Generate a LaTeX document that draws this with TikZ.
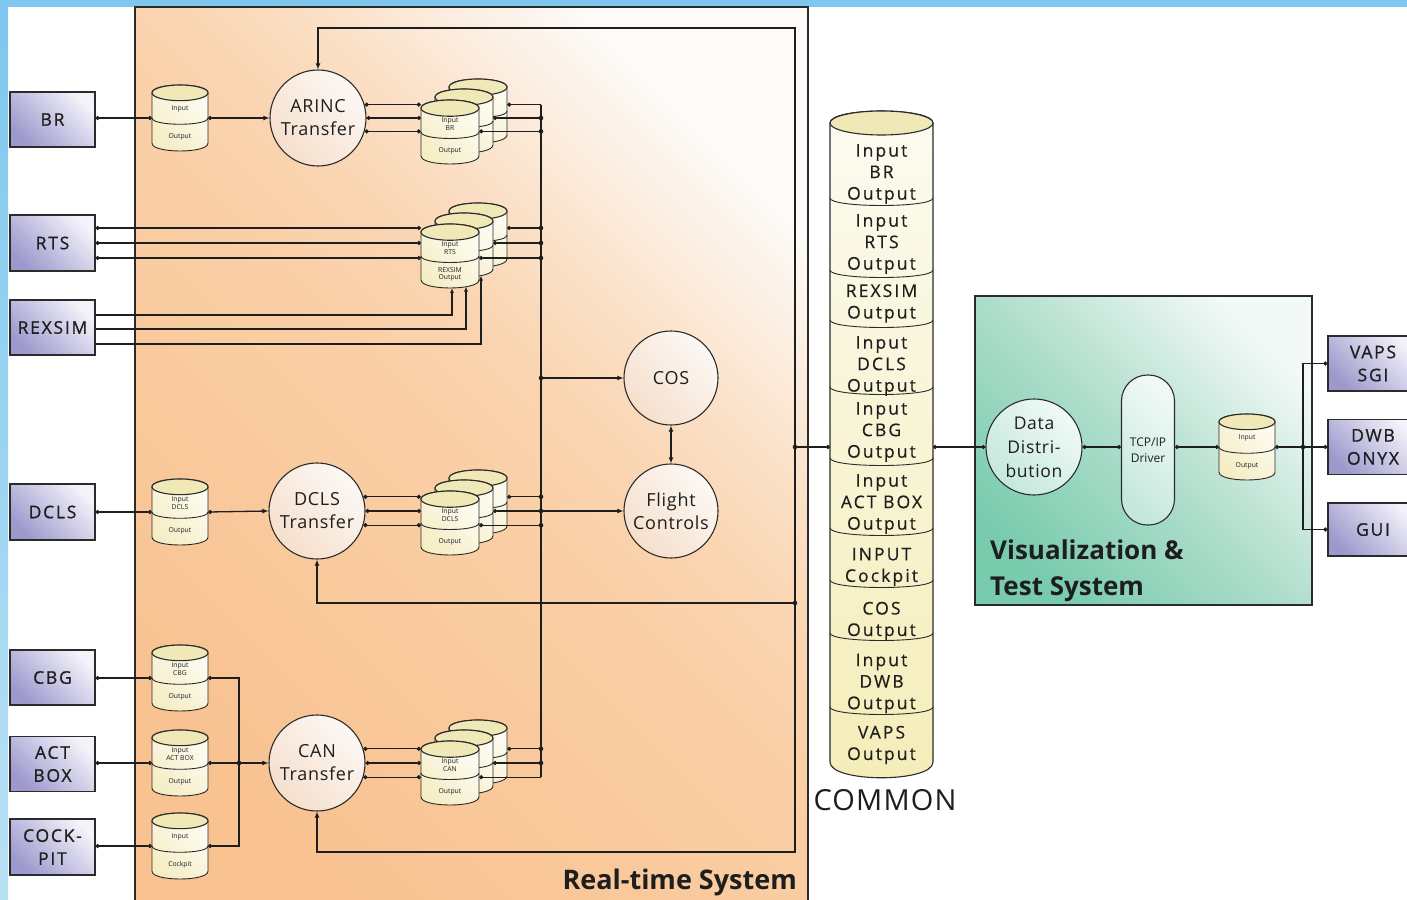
\documentclass[tikz,border=0pt]{standalone}
\usepackage{fontspec}
\setmainfont{Open Sans}
\newfontfamily\trackfont{Open Sans}[LetterSpace=12, FakeBold=0.4]
\newfontfamily\labelfont{Open Sans}[LetterSpace=10, FakeBold=0.8]
\newfontfamily\circfont{Open Sans}[LetterSpace=4]
\usetikzlibrary{arrows.meta}

\definecolor{ink}{HTML}{1E1E1E}
\definecolor{frame}{HTML}{2B2B2B}
\definecolor{skyA}{HTML}{7EC7EE}
\definecolor{skyB}{HTML}{B9E1F4}
\definecolor{rt0}{HTML}{F8C291}
\definecolor{rt1}{HTML}{FACFA6}
\definecolor{rt2}{HTML}{FAD5B2}
\definecolor{rt3}{HTML}{FBE2CA}
\definecolor{rt4}{HTML}{FCEFE3}
\definecolor{rt5}{HTML}{FDFAF7}
\definecolor{vtA}{HTML}{79CBAE}
\definecolor{vtM}{HTML}{B0DECC}
\definecolor{vtB}{HTML}{F2F9F6}
\definecolor{lavA}{HTML}{9D99CD}
\definecolor{lavB}{HTML}{F3F3FA}
\definecolor{cirA}{HTML}{F6DFCC}
\definecolor{cirB}{HTML}{FCF8F5}
\definecolor{ddA}{HTML}{C4E8DB}
\definecolor{ddB}{HTML}{F1F9F6}
\definecolor{cylA}{HTML}{F5EDC4}
\definecolor{cylB}{HTML}{FDFCF3}
\definecolor{cylTop}{HTML}{F1E8B8}
\definecolor{comA}{HTML}{F5EDB8}
\definecolor{comB}{HTML}{FCFBF1}

% orange fade of the real-time frame, light only towards the upper right
\pgfdeclarehorizontalshading{rtfade}{100bp}{color(0bp)=(rt0); color(25bp)=(rt0);
  color(50bp)=(rt1); color(57bp)=(rt2); color(64bp)=(rt3); color(70bp)=(rt4);
  color(75bp)=(rt5); color(100bp)=(rt5)}

\tikzset{
  wire/.style={draw=ink, line width=1.3pt},
  wboth/.style={wire, {Circle[length=4pt]}-{Circle[length=4pt]}},
  wstart/.style={wire, {Circle[length=4pt]}-},
  wend/.style={wire, -{Circle[length=4pt]}},
  warrow/.style={wire, {Circle[length=4pt]}-{Latex[length=6pt,width=5pt]}},
  wfeed/.style={wire, -{Latex[length=6pt,width=5pt]}},
  wup/.style={wire, -{Latex[length=5pt,width=4pt]}},
  extbox/.style={draw=frame, line width=1.3pt, bottom color=lavA, top color=lavB,
    shading angle=-45, minimum width=85pt, minimum height=55pt, inner sep=0pt,
    align=center, font=\labelfont\fontsize{17.5}{23}\selectfont, text=ink},
  proc/.style={circle, draw=frame, line width=1.1pt, bottom color=cirA, top color=cirB,
    shading angle=-45, minimum size=96pt, inner sep=0pt, align=center,
    font=\circfont\fontsize{18}{23}\selectfont, text=ink},
  ddproc/.style={bottom color=ddA, top color=ddB, shading angle=-45,
    font=\circfont\fontsize{17.5}{24}\selectfont},
  cylbody/.style={draw=frame, line width=0.9pt, bottom color=cylA, top color=cylB, shading angle=-45},
  cyltop/.style={draw=frame, line width=1.1pt, fill=cylTop},
  cylline/.style={draw=frame, line width=0.9pt},
  cyltext/.style={inner sep=0pt, align=center, font=\fontsize{6.8}{7.6}\selectfont, text=ink},
  comtext/.style={inner sep=0pt, align=center, font=\trackfont\fontsize{17.5}{21.5}\selectfont, text=ink},
}

% database cylinder: name, cx, cy, width, height, upper text, lower text
\newcommand\dbcyl[7]{%
  \pgfmathsetmacro\cylL{#2-#4/2}%
  \pgfmathsetmacro\cylR{#2+#4/2}%
  \pgfmathsetmacro\cylRy{0.14*#4}%
  \pgfmathsetmacro\cylT{#3-#5/2+\cylRy}%
  \pgfmathsetmacro\cylB{#3+#5/2-\cylRy}%
  \pgfmathsetmacro\cylK{1.333*\cylRy}%
  \pgfmathsetmacro\cylHW{#4/2}%
  \node[inner sep=0pt, minimum width=#4pt, minimum height=#5pt] (#1) at (#2,#3) {};
  \draw[cylbody] (\cylL,\cylT) -- (\cylL,\cylB)
    .. controls (\cylL,\cylB+\cylK) and (\cylR,\cylB+\cylK) .. (\cylR,\cylB)
    -- (\cylR,\cylT) .. controls (\cylR,\cylT-\cylK) and (\cylL,\cylT-\cylK) .. cycle;
  \draw[cyltop] (#2,\cylT) ellipse [x radius=\cylHW, y radius=\cylRy];
  \draw[cylline] (\cylL,#3) .. controls (\cylL,#3+0.8*\cylK) and (\cylR,#3+0.8*\cylK) .. (\cylR,#3);
  \node[cyltext] (#1-up) at (#2,{(\cylT+\cylRy+#3)/2}) {#6};
  \node[cyltext] (#1-lo) at (#2,{(#3+\cylB+1.6*\cylRy)/2}) {#7};
}

% three cylinders stacked one behind the other
\newcommand\dbstack[5]{%
  \dbcyl{#1-c}{#2+28}{#3-21}{58}{64}{}{}%
  \dbcyl{#1-b}{#2+14}{#3-11}{58}{64}{}{}%
  \dbcyl{#1}{#2}{#3}{58}{64}{#4}{#5}%
}

\begin{document}
\begin{tikzpicture}[x=1pt,y=-1pt]
\clip (0,0) rectangle (1407,899);
\fill[white] (0,0) rectangle (1407,899);
\fill[skyA] (0,0) rectangle (1407,7);
\shade[top color=skyA, bottom color=skyB] (0,0) rectangle (8,899);

% system frames
\draw[draw=frame, line width=1.4pt, shading=rtfade, shading angle=45]
  (135,7) rectangle (808,910);
\draw[draw=frame, line width=1.4pt, bottom color=vtA, top color=vtB, middle color=vtM, shading angle=-45]
  (975,296) rectangle (1312,605);

\node[anchor=base east, inner sep=0pt, font=\bfseries\fontsize{27}{30}\selectfont, text=ink] (rtlabel) at (797,889) {Real-time System};
\node[anchor=base west, inner sep=0pt, font=\bfseries\fontsize{26}{30}\selectfont, text=ink] (vtlabel1) at (990,559) {Visualization \&};
\node[anchor=base west, inner sep=0pt, font=\bfseries\fontsize{26}{30}\selectfont, text=ink] (vtlabel2) at (990,595) {Test System};

% external systems
\node[extbox] (br) at (52.5,119.5) {BR};
\node[extbox, minimum height=56pt] (rts) at (52.5,243) {RTS};
\node[extbox] (rexsim) at (52.5,327.5) {REXSIM};
\node[extbox, minimum height=56pt] (dcls) at (52.5,512) {DCLS};
\node[extbox] (cbg) at (52.5,677.5) {CBG};
\node[extbox] (act) at (52.5,764) {ACT\\BOX};
\node[extbox, minimum height=56pt] (cockpit) at (52.5,847) {COCK-\\PIT};
\node[extbox, minimum width=90pt] (vaps) at (1373,363.5) {VAPS\\SGI};
\node[extbox, minimum width=90pt] (dwb) at (1373,447) {DWB\\ONYX};
\node[extbox, minimum width=90pt, minimum height=53pt] (gui) at (1373,529.5) {GUI};

% processes
\node[proc] (arinc) at (318,118) {ARINC\\Transfer};
\node[proc] (dclst) at (317,511) {DCLS\\Transfer};
\node[proc] (can) at (317,763) {CAN\\Transfer};
\node[proc, minimum size=94pt] (cos) at (671,378) {COS};
\node[proc, minimum size=94pt] (fc) at (671,511) {Flight\\Controls};
\node[proc, ddproc] (dd) at (1034,447) {Data\\Distri-\\bution};
\node[draw=frame, line width=1.1pt, rounded corners=26pt, minimum width=53pt, minimum height=150pt,
  inner sep=0pt, bottom color=ddA, top color=ddB, shading angle=-45, align=center,
  font=\fontsize{12}{16}\selectfont, text=ink] (tcp) at (1148,450) {TCP/IP\\Driver};

% data stores
\dbcyl{cbr}{180}{118}{56}{66}{Input}{Output}
\dbcyl{cdcls}{180}{512}{56}{66}{Input\\DCLS}{Output}
\dbcyl{ccbg}{180}{678}{56}{66}{Input\\CBG}{Output}
\dbcyl{cact}{180}{763}{56}{66}{Input\\ACT BOX}{Output}
\dbcyl{ccp}{180}{846}{56}{66}{Input}{Cockpit}
\dbcyl{cvt}{1247}{447}{56}{66}{Input}{Output}

\dbstack{sa}{450}{132}{Input\\BR}{Output}
\dbstack{sr}{450}{256}{Input\\RTS}{REXSIM\\Output}
\dbstack{sd}{450}{523}{Input\\DCLS}{Output}
\dbstack{sc}{450}{773}{Input\\CAN}{Output}

% shared memory
\node[inner sep=0pt, minimum width=103pt, minimum height=670pt] (common) at (881.5,445) {};
\draw[draw=frame, line width=1.1pt, top color=comB, bottom color=comA]
  (830,123) -- (830,762) .. controls (830,783) and (933,783) .. (933,762)
  -- (933,123) .. controls (933,107) and (830,107) .. cycle;
\draw[cyltop] (881.5,123) ellipse [x radius=51.5, y radius=12];
\foreach \yy in {198,270,320,387,458,528,580,633,707}
  \draw[cylline] (830,\yy) .. controls (830,\yy+10) and (933,\yy+10) .. (933,\yy);
\node[comtext] (cm1) at (881.5,174) {Input\\BR\\Output};
\node[comtext] (cm2) at (881.5,244) {Input\\RTS\\Output};
\node[comtext] (cm3) at (881.5,303.5) {REXSIM\\Output};
\node[comtext] (cm4) at (881.5,366) {Input\\DCLS\\Output};
\node[comtext] (cm5) at (881.5,432) {Input\\CBG\\Output};
\node[comtext] (cm6) at (881.5,504) {Input\\ACT BOX\\Output};
\node[comtext] (cm7) at (881.5,567) {INPUT\\Cockpit};
\node[comtext] (cm8) at (881.5,621) {COS\\Output};
\node[comtext] (cm9) at (881.5,683.5) {Input\\DWB\\Output};
\node[comtext] (cm10) at (881.5,745) {VAPS\\Output};
\node[inner sep=0pt, font=\circfont\fontsize{29}{31}\selectfont, text=ink] (comlabel) at (885,800) {COMMON};

% junction points
\coordinate (ba1) at (arinc.16 -| 541,0);
\coordinate (ba2) at (arinc.0 -| 541,0);
\coordinate (ba3) at (arinc.-16 -| 541,0);
\coordinate (bt1) at (541,228);
\coordinate (bt2) at (541,243);
\coordinate (bt3) at (541,258);
\coordinate (bcos) at (cos.west -| 541,0);
\coordinate (bd1) at (dclst.17 -| 541,0);
\coordinate (bd2) at (dclst.0 -| 541,0);
\coordinate (bd3) at (dclst.-17 -| 541,0);
\coordinate (bc1) at (can.17 -| 541,0);
\coordinate (bc2) at (can.0 -| 541,0);
\coordinate (bc3) at (can.-17 -| 541,0);
\coordinate (rx1) at (452,288);
\coordinate (rx2) at (466,286.5);
\coordinate (rx3) at (481,275.5);
\coordinate (mtop) at (239,678);
\coordinate (mmid) at (239,763);
\coordinate (mbot) at (239,846);
\coordinate (jr) at (795,447);
\coordinate (ltop) at (795,28);
\coordinate (lmid) at (795,603);
\coordinate (lbot) at (795,852);
\coordinate (jv) at (1303,447);

% BR / ARINC path
\draw[wboth] (br.east |- cbr.west) -- (cbr.west);
\draw[warrow] (cbr.east) -- (arinc.west);
\foreach \a in {16,0,-16} \draw[wboth] (arinc.\a) -- (sa.west |- arinc.\a);
\draw[wstart] (sa-c.east |- ba1) -- (ba1);
\draw[wstart] (sa-b.east |- ba2) -- (ba2);
\draw[wstart] (sa.east |- ba3) -- (ba3);

% RTS / REXSIM path
\draw[wboth] (rts.east |- bt1) -- (sr.west |- bt1);
\draw[wboth] (rts.east |- bt2) -- (sr.west |- bt2);
\draw[wboth] (rts.east |- bt3) -- (sr.west |- bt3);
\draw[wstart] (sr-c.east |- bt1) -- (bt1);
\draw[wstart] (sr-b.east |- bt2) -- (bt2);
\draw[wstart] (sr.east |- bt3) -- (bt3);
\draw[wup] (rexsim.east |- 0,315) -| (rx1);
\draw[wup] (rexsim.east |- 0,329) -| (rx2);
\draw[wup] (rexsim.east |- 0,344) -| (rx3);

% DCLS path
\draw[wboth] (dcls.east) -- (cdcls.west);
\draw[warrow] (cdcls.east) -- (dclst.west);
\foreach \a in {17,0,-17} \draw[wboth] (dclst.\a) -- (sd.west |- dclst.\a);
\draw[wstart] (sd-c.east |- bd1) -- (bd1);
\draw[wstart] (sd-b.east |- bd2) -- (bd2);
\draw[wstart] (sd.east |- bd3) -- (bd3);

% CAN path
\draw[wboth] (cbg.east |- ccbg.west) -- (ccbg.west);
\draw[wboth] (act.east |- cact.west) -- (cact.west);
\draw[wboth] (cockpit.east |- ccp.west) -- (ccp.west);
\draw[wboth] (ccbg.east) -- (mtop) -- (mbot) -- (ccp.east);
\draw[warrow] (cact.east) -- (can.west);
\foreach \a in {17,0,-17} \draw[wboth] (can.\a) -- (sc.west |- can.\a);
\draw[wstart] (sc-c.east |- bc1) -- (bc1);
\draw[wstart] (sc-b.east |- bc2) -- (bc2);
\draw[wstart] (sc.east |- bc3) -- (bc3);

% internal bus
\draw[wire] (ba1) -- (bc3);
\draw[wfeed] (bcos) -- (cos.west);
\draw[wfeed] (bd2) -- (fc.west);
\draw[wire, {Latex[length=6pt,width=5pt]}-{Latex[length=6pt,width=5pt]}] (cos.south) -- (fc.north);

% feedback from shared memory
\draw[wfeed] (jr) -- (ltop) -| (arinc.north);
\draw[wfeed] (jr) -- (lmid) -| (dclst.south);
\draw[wfeed] (lmid) -- (lbot) -| (can.south);
\draw[wend] (jr) -- (common.west |- jr);

% visualization side
\draw[wboth] (common.east |- jr) -- (dd.west);
\draw[wboth] (dd.east) -- (tcp.west |- dd.east);
\draw[wboth] (tcp.east |- dd.east) -- (cvt.west);
\draw[wstart] (cvt.east) -- (jv);
\draw[wend] (jv) |- (vaps.west);
\draw[wend] (jv) -- (dwb.west);
\draw[wend] (jv) |- (gui.west);

% junction dots
\foreach \p in {ba2,ba3,bt1,bt2,bt3,bcos,bd1,bd2,bd3,bc1,bc2,mmid,jr,lmid,jv}
  \fill[ink] (\p) circle (2.3pt);
\end{tikzpicture}
\end{document}
